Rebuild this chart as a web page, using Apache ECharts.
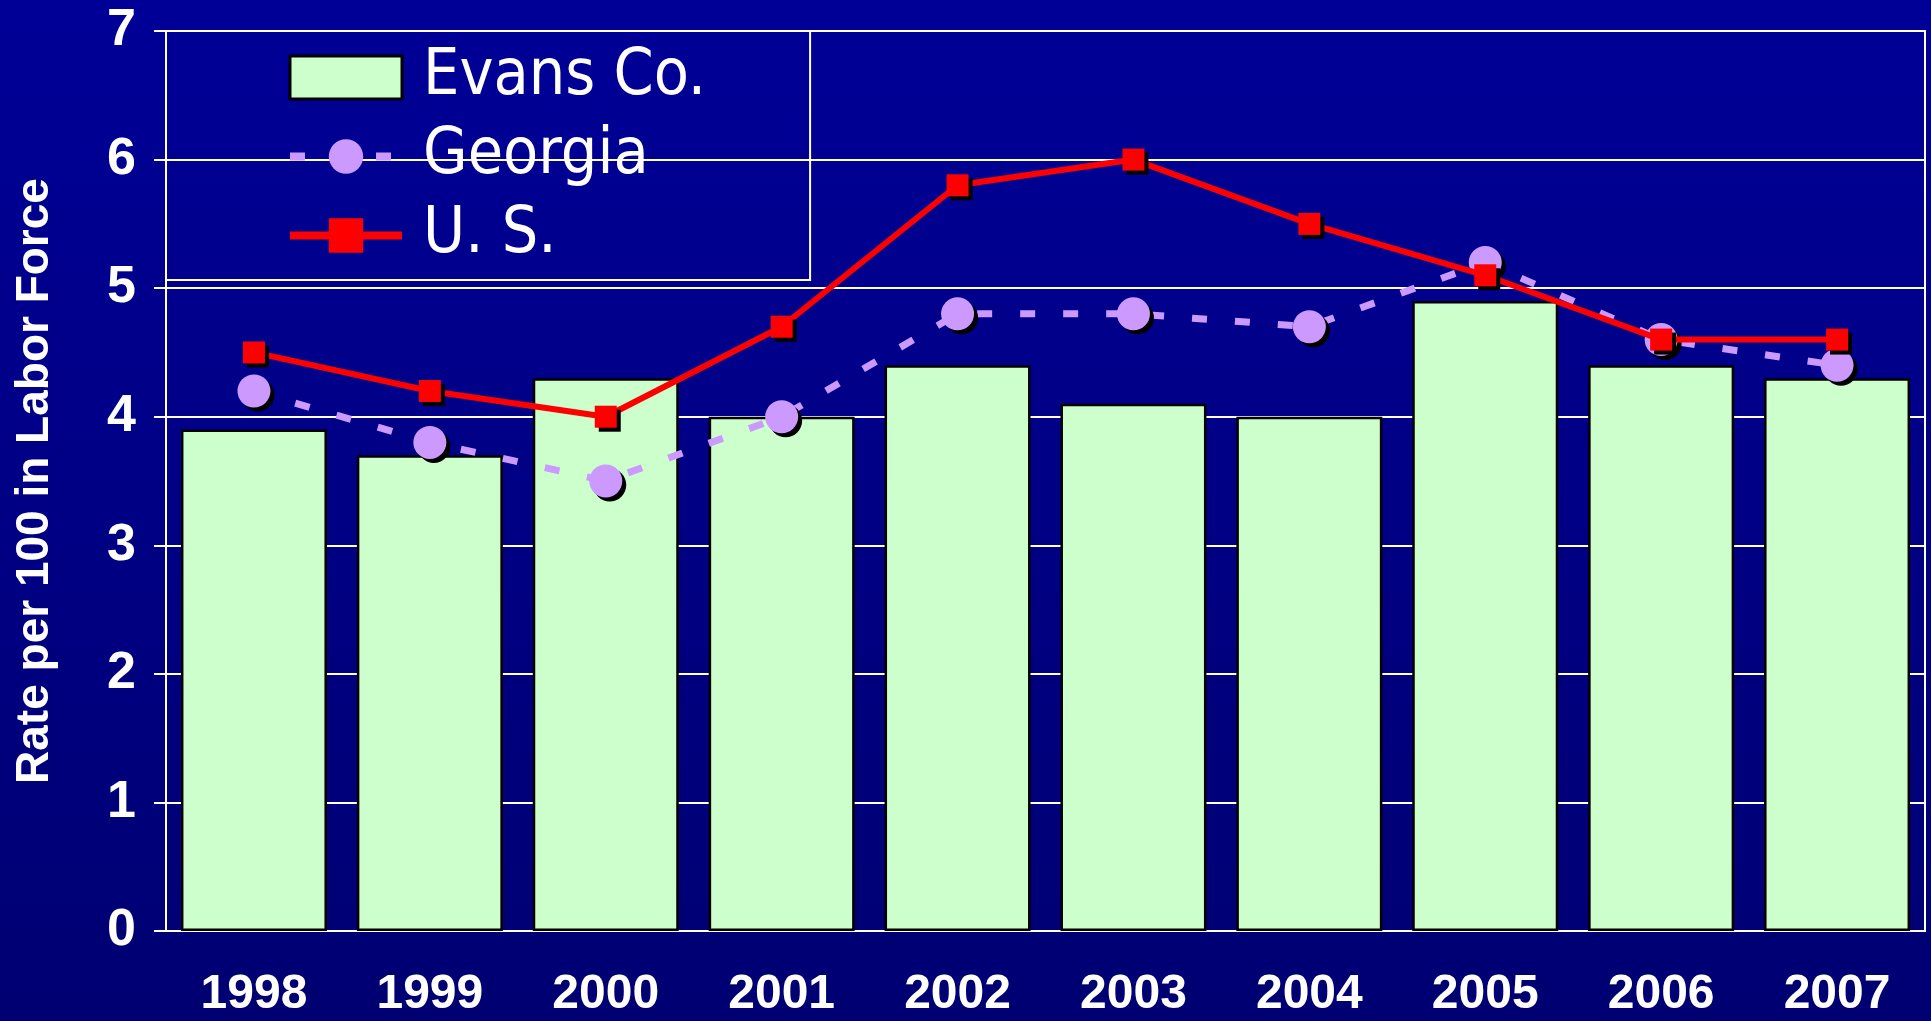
<!DOCTYPE html>
<html>
<head>
<meta charset="utf-8">
<script src="https://cdn.jsdelivr.net/npm/echarts@6/dist/echarts.min.js"></script>
<style>
  html, body { margin: 0; padding: 0; }
  #chart { width: 1931px; height: 1021px; }
</style>
</head>
<body>
<div id="chart"></div>
<script>
// 年份与三组失业率数据
const years = ['1998', '1999', '2000', '2001', '2002', '2003', '2004', '2005', '2006', '2007']
const evansCo = [3.9, 3.7, 4.3, 4.0, 4.4, 4.1, 4.0, 4.9, 4.4, 4.3]
const georgia = [4.2, 3.8, 3.5, 4.0, 4.8, 4.8, 4.7, 5.2, 4.6, 4.4]
const usRate = [4.5, 4.2, 4.0, 4.7, 5.8, 6.0, 5.5, 5.1, 4.6, 4.6]

const chart = echarts.init(document.getElementById('chart'))

const markerShadow = {
  shadowColor: '#000',
  shadowBlur: 0,
  shadowOffsetX: 4,
  shadowOffsetY: 4
}

chart.setOption({
  backgroundColor: new echarts.graphic.LinearGradient(0, 0, 0, 1, [
    { offset: 0, color: '#000097' },
    { offset: 1, color: '#000072' }
  ]),
  animation: false,
  grid: {
    left: 166, right: 6, top: 31, bottom: 90,
    show: true,
    borderColor: '#fff',
    borderWidth: 2,
    backgroundColor: 'transparent'
  },
  legend: {
    orient: 'vertical',
    left: 166,
    top: 31,
    padding: [14, 104, 12, 120],
    itemWidth: 112,
    itemHeight: 43,
    itemGap: 14,
    borderColor: '#fff',
    borderWidth: 2,
    textStyle: {
      color: '#fff',
      fontSize: 64,
      lineHeight: 65,
      fontFamily: '"Liberation Sans Narrow", "DejaVu Sans Condensed", "Liberation Sans", sans-serif',
      padding: [0, 0, 0, 16]
    },
    data: [
      { name: 'Evans Co.', icon: 'rect', itemStyle: { borderColor: '#000', borderWidth: 3 } },
      { name: 'Georgia', lineStyle: { width: 8 } },
      { name: 'U. S.', lineStyle: { width: 8 } }
    ]
  },
  xAxis: {
    type: 'category',
    data: years,
    axisLine: { lineStyle: { color: '#fff', width: 2 } },
    axisTick: { length: 14, lineStyle: { color: '#fff', width: 2 } },
    axisLabel: {
      color: '#fff',
      fontSize: 48,
      fontWeight: 'bold',
      fontFamily: '"Liberation Sans", Arial, sans-serif',
      margin: 40
    }
  },
  yAxis: {
    type: 'value',
    min: 0,
    max: 7,
    interval: 1,
    name: 'Rate per 100 in Labor Force',
    nameLocation: 'middle',
    nameGap: 108,
    nameTextStyle: {
      color: '#fff',
      fontSize: 46,
      fontWeight: 'bold',
      fontFamily: '"Liberation Sans", Arial, sans-serif'
    },
    axisLine: { show: true, lineStyle: { color: '#fff', width: 2 } },
    axisTick: { show: true, length: 12, lineStyle: { color: '#fff', width: 2 } },
    axisLabel: {
      color: '#fff',
      fontSize: 52,
      fontWeight: 'bold',
      fontFamily: '"Liberation Sans", Arial, sans-serif',
      margin: 30
    },
    splitLine: { lineStyle: { color: '#fff', width: 2 } }
  },
  series: [
    {
      name: 'Evans Co.',
      type: 'bar',
      data: evansCo,
      barCategoryGap: '17%',
      itemStyle: {
        color: '#CCFFCC',
        borderColor: '#000',
        borderWidth: 2.5
      }
    },
    {
      name: 'Georgia',
      type: 'line',
      data: georgia,
      symbol: 'circle',
      symbolSize: 33,
      lineStyle: { color: '#CC99FF', width: 7, type: [15, 28] },
      itemStyle: Object.assign({ color: '#CC99FF' }, markerShadow),
      z: 3
    },
    {
      name: 'U. S.',
      type: 'line',
      data: usRate,
      symbol: 'rect',
      symbolSize: 22,
      lineStyle: { color: '#FF0000', width: 6 },
      itemStyle: Object.assign({ color: '#FF0000' }, markerShadow),
      z: 4
    }
  ]
})
</script>
</body>
</html>
